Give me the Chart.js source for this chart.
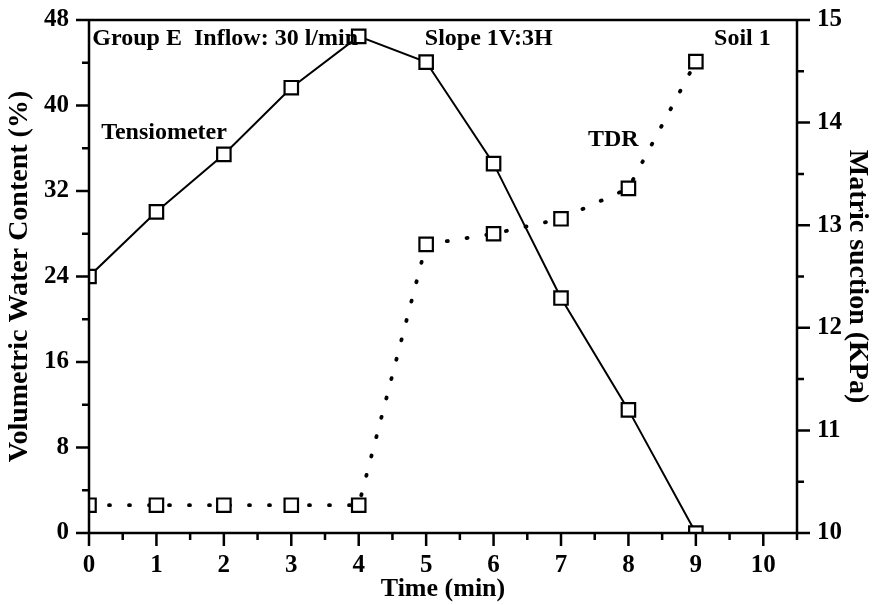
<!DOCTYPE html>
<html>
<head>
<meta charset="utf-8">
<script src="https://cdn.jsdelivr.net/npm/chart.js@4.4.1/dist/chart.umd.min.js"></script>
<style>
  html, body { margin: 0; padding: 0; background: #fff; }
  #wrap { width: 874px; height: 605px; }
</style>
</head>
<body>
<div id="wrap"><canvas id="c" width="874" height="605"></canvas></div>
<script>
const timeMin = [0, 1, 2, 3, 4, 5, 6, 7, 8, 9];
const tensiometerKPa = [12.5, 13.13, 13.69, 14.34, 14.84, 14.59, 13.6, 12.29, 11.2, 10.0];
const tdrVWC = [2.6, 2.6, 2.6, 2.6, 2.6, 27.0, 28.0, 29.4, 32.25, 44.1];
const xTicks = [0, 1, 2, 3, 4, 5, 6, 7, 8, 9, 10];
const leftTicks = [0, 8, 16, 24, 32, 40, 48];
const rightTicks = [10, 11, 12, 13, 14, 15];
const annotations = [
  { text: 'Group E  Inflow: 30 l/min', x: 0.05, y: 46.2 },
  { text: 'Slope 1V:3H', x: 4.98, y: 46.2 },
  { text: 'Soil 1', x: 9.27, y: 46.2 },
  { text: 'Tensiometer', x: 0.18, y: 37.4 },
  { text: 'TDR', x: 7.4, y: 36.8 }
];

const FONT = '"Liberation Serif", "Times New Roman", serif';

const toPts = (xs, ys) => xs.map((x, i) => ({ x: x, y: ys[i] }));

const axesPlugin = {
  id: 'axesPlugin',
  afterDraw(chart) {
    const ctx = chart.ctx;
    const a = chart.chartArea;
    const xs = chart.scales.x, yl = chart.scales.yL, yr = chart.scales.yR;
    ctx.save();
    ctx.strokeStyle = '#000';
    ctx.lineWidth = 2.5;
    ctx.lineCap = 'butt';
    ctx.beginPath();
    ctx.moveTo(a.left, a.top); ctx.lineTo(a.right, a.top);
    ctx.moveTo(a.left, a.top); ctx.lineTo(a.left, a.bottom);
    ctx.moveTo(a.right, a.top); ctx.lineTo(a.right, a.bottom);
    ctx.moveTo(a.left, a.bottom); ctx.lineTo(a.right, a.bottom);
    ctx.stroke();
    ctx.beginPath();
    for (let v = 0; v <= 10.5001; v += 0.5) {
      const px = xs.getPixelForValue(v);
      const len = Math.abs(v - Math.round(v)) < 1e-6 ? 13 : 7;
      ctx.moveTo(px, a.bottom); ctx.lineTo(px, a.bottom + len);
    }
    for (let v = 0; v <= 48.001; v += 4) {
      const py = yl.getPixelForValue(v);
      const len = v % 8 === 0 ? 13 : 7;
      ctx.moveTo(a.left, py); ctx.lineTo(a.left - len, py);
    }
    for (let v = 10; v <= 15.001; v += 0.5) {
      const py = yr.getPixelForValue(v);
      const len = Math.abs(v - Math.round(v)) < 1e-6 ? 13 : 7;
      ctx.moveTo(a.right, py); ctx.lineTo(a.right + len, py);
    }
    ctx.stroke();
    ctx.fillStyle = '#000';
    ctx.font = 'bold 24px ' + FONT;
    ctx.textBaseline = 'middle';
    ctx.textAlign = 'left';
    annotations.forEach(t => {
      ctx.fillText(t.text, xs.getPixelForValue(t.x), yl.getPixelForValue(t.y));
    });
    ctx.restore();
  }
};

const noPad = s => { s.paddingTop = 0; s.paddingBottom = 0; s.paddingLeft = 0; s.paddingRight = 0; };

new Chart(document.getElementById('c'), {
  type: 'line',
  data: {
    datasets: [
      {
        label: 'Tensiometer',
        data: toPts(timeMin, tensiometerKPa),
        yAxisID: 'yR',
        borderColor: '#000',
        borderWidth: 2,
        pointStyle: 'rect',
        pointRadius: 9.5,
        pointBorderWidth: 2.2,
        pointBackgroundColor: '#fff',
        pointBorderColor: '#000',
        tension: 0,
        clip: 0
      },
      {
        label: 'TDR',
        data: toPts(timeMin, tdrVWC),
        yAxisID: 'yL',
        borderColor: '#000',
        borderWidth: 3.8,
        borderDash: [1, 19],
        borderCapStyle: 'round',
        pointStyle: 'rect',
        pointRadius: 9.5,
        pointBorderWidth: 2.2,
        pointBackgroundColor: '#fff',
        pointBorderColor: '#000',
        tension: 0,
        clip: 0
      }
    ]
  },
  options: {
    responsive: false,
    animation: false,
    layout: { padding: { top: 20, right: 0, left: 0, bottom: 0 } },
    plugins: { legend: { display: false }, tooltip: { enabled: false } },
    scales: {
      x: {
        type: 'linear',
        min: 0, max: 10.5,
        afterBuildTicks: s => { s.ticks = xTicks.map(v => ({ value: v })); },
        afterFit: s => { s.height = 72; noPad(s); },
        grid: { display: false, drawTicks: false },
        border: { display: false },
        ticks: { color: '#000', font: { family: FONT, size: 25, weight: 'bold' }, padding: 18, maxRotation: 0 },
        title: { display: true, text: 'Time (min)', color: '#000', font: { family: FONT, size: 26, weight: 'bold' }, padding: { top: 0, bottom: 0 } }
      },
      yL: {
        type: 'linear',
        position: 'left',
        min: 0, max: 48,
        afterBuildTicks: s => { s.ticks = leftTicks.map(v => ({ value: v })); },
        afterFit: s => { s.width = 89; noPad(s); },
        grid: { display: false, drawTicks: false },
        border: { display: false },
        ticks: { color: '#000', font: { family: FONT, size: 25, weight: 'bold' }, padding: 20 },
        title: { display: true, text: 'Volumetric Water Content (%)', color: '#000', font: { family: FONT, size: 28, weight: 'bold' }, padding: { top: 3, bottom: 0 } }
      },
      yR: {
        type: 'linear',
        position: 'right',
        min: 10, max: 15,
        afterBuildTicks: s => { s.ticks = rightTicks.map(v => ({ value: v })); },
        afterFit: s => { s.width = 77; noPad(s); },
        grid: { display: false, drawTicks: false },
        border: { display: false },
        ticks: { color: '#000', font: { family: FONT, size: 25, weight: 'bold' }, padding: 20 },
        title: { display: true, text: 'Matric suction (KPa)', color: '#000', font: { family: FONT, size: 28, weight: 'bold' }, padding: { top: 0, bottom: 0 } }
      }
    }
  },
  plugins: [axesPlugin]
});
</script>
</body>
</html>
